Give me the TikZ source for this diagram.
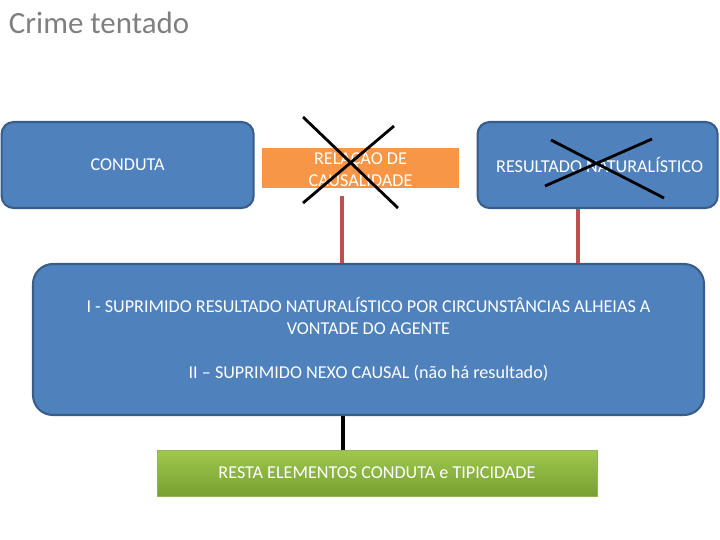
\documentclass[tikz,border=0pt]{standalone}
\usepackage{fontspec}
\setmainfont{Carlito}
\usetikzlibrary{positioning, calc}
\usepackage{xcolor}
\definecolor{boxblue}{RGB}{79,129,189}
\definecolor{edgeblue}{RGB}{56,93,138}
\definecolor{causeorange}{RGB}{247,150,70}
\definecolor{linkred}{RGB}{192,80,77}
\definecolor{greentop}{RGB}{160,200,80}
\definecolor{greenbot}{RGB}{118,160,48}
\definecolor{titlegray}{RGB}{127,127,127}

\begin{document}
\begin{tikzpicture}[font=\fontsize{12.9}{15.6}\selectfont,
  bluebox/.style={draw=edgeblue, fill=boxblue, line width=1.5pt, text=white,
                  rounded corners=0.3cm, align=center, inner sep=0pt},
  crossline/.style={black, line width=2pt},
  redlink/.style={linkred, line width=2.5pt}]
  \useasboundingbox (0,0) rectangle (18,-13.5);
  \node[titlegray, anchor=base west, font=\fontsize{22}{26}\selectfont]
    (title) at (0.1,-0.825) {Crime tentado};
  % top row
  \node[bluebox, minimum width=6.3cm, minimum height=2.15cm] (cond)
    at (3.19,-4.125) {\raisebox{-1.5pt}{CONDUTA}};
  \node[fill=causeorange, text=white, align=center, inner sep=0pt,
        minimum width=4.925cm, minimum height=1cm] (rel)
    at (9.0125,-4.2) {RELAÇÃO DE\\CAUSALIDADE};
  \node[bluebox, minimum width=6cm, minimum height=2.15cm] (res)
    at (14.94,-4.125) {\hspace*{0.1cm}\raisebox{-1.5pt}{RESULTADO NATURALÍSTICO}};
  % the crosses
  \draw[crossline] (7.575,-2.925) -- (9.95,-5.2);
  \draw[crossline] (9.85,-3.15) -- (7.575,-5.075);
  \draw[crossline] (13.775,-3.5) -- (16.6,-4.95);
  \draw[crossline] (16.3,-3.475) -- (13.625,-4.65);
  % middle
  \node[bluebox, rounded corners=0.5cm, minimum width=16.775cm,
        minimum height=3.775cm] (big) at (9.2125,-8.4875)
    {I - SUPRIMIDO RESULTADO NATURALÍSTICO POR CIRCUNSTÂNCIAS ALHEIAS A\\
     VONTADE DO AGENTE\\[15.6pt]
     II – SUPRIMIDO NEXO CAUSAL (não há resultado)};
  \node[top color=greentop, bottom color=greenbot, draw=greenbot!80!white,
        text=white, inner sep=0pt, minimum width=11cm, minimum height=1.15cm]
    (rest) at (9.425,-11.825) {RESTA ELEMENTOS CONDUTA e TIPICIDADE};
  % links
  \draw[redlink] ([xshift=-0.4625cm, yshift=-0.2cm]rel.south)
    -- ([xshift=-0.4625cm]rel.south |- big.north);
  \draw[redlink] ([xshift=-0.4875cm]res.south)
    -- ([xshift=-0.4875cm]res.south |- big.north);
  \draw[black, line width=3pt] ([xshift=-0.64cm]big.south)
    -- ([xshift=-0.64cm]big.south |- rest.north);
\end{tikzpicture}
\end{document}
